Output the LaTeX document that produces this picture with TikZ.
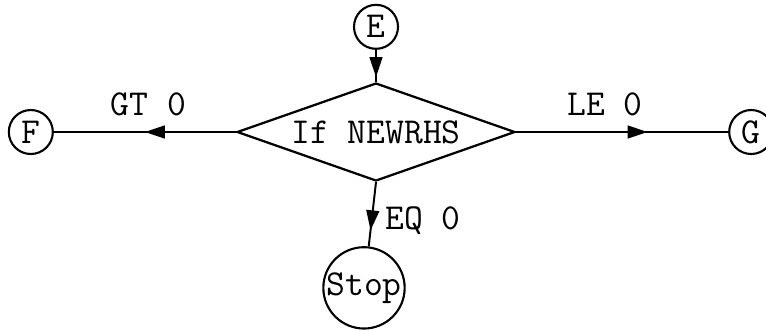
\documentclass[tikz,border=0pt]{standalone}
\usepackage{tikz}
\usetikzlibrary{arrows.meta,positioning,shapes.geometric,decorations.markings}

\begin{document}
\begin{tikzpicture}[
    font=\ttfamily\fontsize{26}{30}\selectfont,
    conn/.style={circle, draw, line width=1.5pt, minimum size=1.1cm, inner sep=0pt},
    cond/.style={diamond, draw, line width=1.6pt, aspect=2.84, minimum width=6.95cm, minimum height=2.45cm, inner sep=0pt},
    flow/.style={line width=1.4pt, postaction={decorate},
        decoration={markings, mark=at position #1 with {\arrow{Triangle[length=0.5cm,width=0.32cm]}}}}
]
\useasboundingbox (0,0) rectangle (19.15,-8.3);
\node[cond] (test) at (9.4,-3.3) {If NEWRHS};
\node[conn, above=0.8cm of test] (e) {E};
\node[conn, left=4.55cm of test] (f) {F};
\node[conn, right=5.3cm of test] (g) {G};
\node[conn, minimum size=2cm, below=1.6cm of test, xshift=-0.3cm] (stop) {Stop};
\draw[flow=0.85] (e) -- (test);
\draw[flow=0.5] (test.west) -- node[above, pos=0.48, yshift=0.27cm] {GT 0} (f);
\draw[flow=0.62] (test.east) -- node[above, pos=0.42, yshift=0.27cm] {LE 0} (g);
\draw[flow=0.75] (test.south) -- node[right, pos=0.6, xshift=0.2cm] {EQ 0} (stop);
\end{tikzpicture}
\end{document}
